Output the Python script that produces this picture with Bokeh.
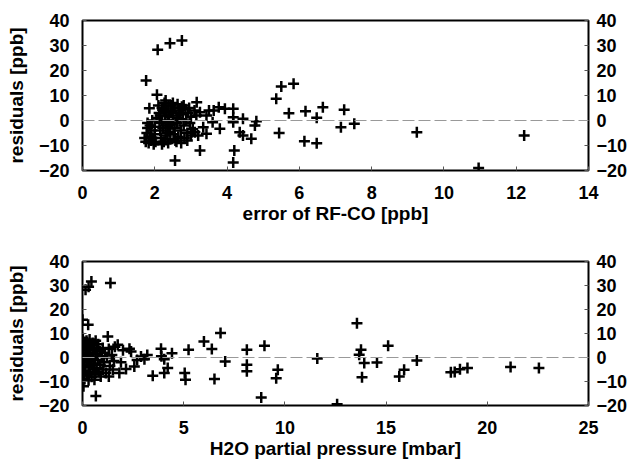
from bokeh.plotting import figure
from bokeh.layouts import column
from bokeh.models import Span, LinearAxis, Range1d, FixedTicker
from bokeh.embed import file_html
from bokeh.resources import INLINE

# ---- top panel: residuals vs error of RF-CO ----
top_x = [2.08, 2.42, 2.75, 1.76, 2.06, 1.85, 3.16, 3.25, 4.20, 4.17, 2.56,
         1.72, 1.75, 1.78, 1.80, 1.80, 1.83, 1.85, 1.87, 1.90, 1.90, 1.93, 1.95,
         1.97, 2.00, 2.00, 2.02, 2.05,
         2.10, 2.12, 2.13, 2.15, 2.17, 2.20, 2.20, 2.22, 2.25, 2.27, 2.28, 2.30,
         2.30, 2.33, 2.35, 2.37, 2.38, 2.40, 2.42, 2.43, 2.45, 2.47, 2.50, 2.50,
         2.52, 2.55, 2.55, 2.57, 2.60, 2.62, 2.63, 2.65, 2.67, 2.70, 2.72, 2.73,
         2.75, 2.78, 2.80, 2.82, 2.85, 2.87, 2.90, 2.92, 2.95, 2.97, 3.00, 3.05,
         3.10, 3.15, 2.15, 2.25, 2.35, 2.45, 2.60, 2.70, 2.80, 2.65, 2.20, 2.30,
         2.40, 2.50, 2.90, 3.00,
         3.25, 3.43, 3.50, 3.63, 3.77, 3.94, 4.17, 4.17, 4.17, 3.60, 3.34, 3.80,
         3.43, 3.20, 3.02, 3.11, 4.44, 4.44, 4.35, 4.81, 4.77, 4.67,
         5.36, 5.50, 5.84, 5.71, 6.17, 6.48, 6.65, 5.44, 6.14, 6.48, 7.24, 7.15,
         7.52, 9.25, 12.22, 10.96]
top_y = [28.3, 30.9, 32.0, 16.0, 10.3, 4.9, 7.3, -12.0, -12.0, -16.8, -16.0,
         -7.0, -8.5, -5.0, -3.0, -1.0, -9.0, -6.5, -2.0, -8.0, -4.0, 0.0, -7.0,
         -9.5, -5.5, -2.5, -8.5, 1.0,
         6.0, 3.0, -1.0, -4.0, -7.0, 5.0, 0.0, -3.0, -8.5, 7.0, 2.0, -2.0,
         -6.0, 4.0, -0.5, -9.0, 6.0, 1.5, -4.5, -7.5, 3.5, -1.5, 7.0, 0.0,
         -5.5, 5.0, -3.0, -8.0, 2.0, -1.0, 6.5, -6.5, 4.0, 0.5, -4.0, -9.0,
         5.5, 2.5, -2.0, -7.0, 4.5, 0.0, -5.0, 3.0, 5.0, -1.0, 1.5, -3.5,
         4.0, 2.0, 2.0, 4.5, -5.0, 6.0, -8.5, 3.0, 6.0, 1.0, -9.5, 8.0,
         -2.0, 3.0, -8.0, -6.0,
         3.3, 2.0, 4.0, 4.0, 5.3, 4.7, 4.7, 1.3, -0.7, -0.7, -2.7, -3.3,
         -5.3, -6.0, -4.7, -4.7, 0.7, -6.0, -4.7, -0.3, -2.0, -7.3,
         8.7, 13.6, 14.7, 2.9, 3.7, 1.1, 5.3, -5.0, -8.3, -9.1, 4.3, -2.7,
         -1.3, -4.7, -6.0, -19.0]

# ---- bottom panel: residuals vs H2O partial pressure ----
bot_x = [0.02, 0.05, 0.05, 0.05, 0.05, 0.05, 0.10, 0.10, 0.10, 0.10, 0.15, 0.15,
         0.18, 0.20, 0.20, 0.22, 0.25, 0.25, 0.28, 0.30, 0.30, 0.33, 0.35, 0.35,
         0.38, 0.40, 0.42, 0.45, 0.45, 0.50, 0.50, 0.52, 0.55, 0.58, 0.60, 0.62,
         0.65, 0.68, 0.70, 0.72, 0.75, 0.78, 0.80, 0.85, 0.88, 0.90, 0.95, 1.00,
         1.00, 1.05, 1.10, 1.15, 1.20, 1.25, 1.30, 1.30, 1.35, 1.45, 1.50, 1.55,
         1.60, 1.74, 1.82, 1.90, 2.00, 2.15, 2.32, 2.40, 2.56, 2.70, 2.89, 3.06,
         3.20, 3.47, 3.88, 3.90, 4.04, 4.21, 4.04, 4.42, 0.59, 0.05, 0.66, 0.00,
         0.28, 0.15, 0.44, 1.38, 0.30,
         5.24, 6.00, 6.39, 6.82, 7.05, 5.05, 5.09, 6.52, 8.12, 8.12, 8.12, 8.99,
         9.65, 9.57, 8.83, 11.60, 12.58, 13.56, 13.76, 13.67, 13.92, 13.81, 14.55,
         15.10, 16.52, 15.89, 15.65, 18.20, 18.39, 18.65, 19.02, 21.15, 22.55]
bot_y = [8.0, 5.0, 2.0, -1.0, -4.0, -7.0, 6.5, 0.0, -3.0, -9.0, 4.0, -5.5,
         1.5, 7.0, -2.0, -7.5, 3.0, -0.5, 5.5, -4.0, -9.5, 1.0, 7.5, -6.0,
         3.5, -1.5, 5.0, -3.0, -8.0, 2.0, 6.0, -5.0, 0.0, 4.0, -2.5, -7.0,
         7.0, 1.5, -4.5, 3.0, -1.0, 5.5, -6.0, 2.5, -3.0, -7.9, 0.5, 4.0,
         -5.0, -2.0, 2.0, -6.5, 0.0, 8.7, -7.9, 3.5, -3.5, 1.0, -5.0, -1.5,
         4.5, 5.3, -6.5, -2.0, 3.0, -4.8, 3.6, 2.5, -3.7, -1.0, 0.4, -0.7,
         1.0, -7.6, 3.6, 0.5, -0.7, -4.4, -6.5, 1.8, -9.3, -12.0, -16.0, 15.7,
         13.6, 28.2, 31.7, 31.0, 29.5,
         3.2, 6.7, 3.5, 10.2, -1.7, -6.5, -9.3, -9.0, 3.2, -3.0, -5.7, 4.9,
         -5.1, -8.6, -16.7, -0.4, -19.5, 14.3, 3.2, 1.1, -2.3, -8.2, -2.1,
         4.9, -1.2, -5.1, -7.9, -6.1, -6.0, -4.9, -4.4, -4.0, -4.4]

y_ticks = [-20, -10, 0, 10, 20, 30, 40]
top_xticks = [0, 2, 4, 6, 8, 10, 12, 14]
bot_xticks = [0, 5, 10, 15, 20, 25]

FONT = "Liberation Sans"


def panel(xs, ys, xmax, xticks, xlabel, btop, bbottom, bleft, bright):
    p = figure(width=636, height=231, x_range=Range1d(0, xmax),
               y_range=Range1d(-20, 40), output_backend="svg",
               toolbar_location=None, min_border_top=btop,
               min_border_bottom=bbottom, min_border_left=bleft,
               min_border_right=bright, background_fill_color="white",
               border_fill_color="white")
    p.xgrid.visible = False
    p.ygrid.visible = False
    p.outline_line_color = "black"
    p.outline_line_width = 2
    p.outline_line_alpha = 1

    p.add_layout(LinearAxis(), "right")
    for ax in p.yaxis:
        ax.ticker = FixedTicker(ticks=y_ticks)
    p.xaxis.ticker = FixedTicker(ticks=xticks)

    for ax in list(p.xaxis) + list(p.yaxis):
        ax.axis_line_color = None
        ax.major_tick_in = 4
        ax.major_tick_out = 0
        ax.major_tick_line_color = "#555555"
        ax.minor_tick_line_color = None
        ax.major_label_text_font = FONT
        ax.major_label_text_font_style = "bold"
        ax.major_label_text_font_size = "18px"
        ax.major_label_text_color = "black"
        ax.axis_label_text_font = FONT
        ax.axis_label_text_font_style = "bold"
        ax.axis_label_text_font_size = "19px"
        ax.axis_label_text_color = "black"
    p.xaxis.major_label_standoff = 15
    p.xaxis.axis_label = xlabel
    p.xaxis.axis_label_standoff = 1
    p.yaxis[0].axis_label = "residuals [ppb]"
    p.yaxis[0].axis_label_standoff = 9
    p.yaxis[0].major_label_standoff = 13
    p.yaxis[1].major_label_standoff = 8

    p.add_layout(Span(location=0, dimension="width", line_color="#999999",
                      line_width=1, line_dash="12 4"))
    p.scatter(xs, ys, marker="cross", size=11, line_width=2.5,
              line_color="black")
    return p


p1 = panel(top_x, top_y, 14, top_xticks, "error of RF-CO [ppb]", 20, 61, 82, 46)
p2 = panel(bot_x, bot_y, 25, bot_xticks, "H2O partial pressure [mbar]", 30, 57, 81, 48)

layout = column(p1, p2, spacing=0)
open("out.html", "w").write(file_html(layout, INLINE))
